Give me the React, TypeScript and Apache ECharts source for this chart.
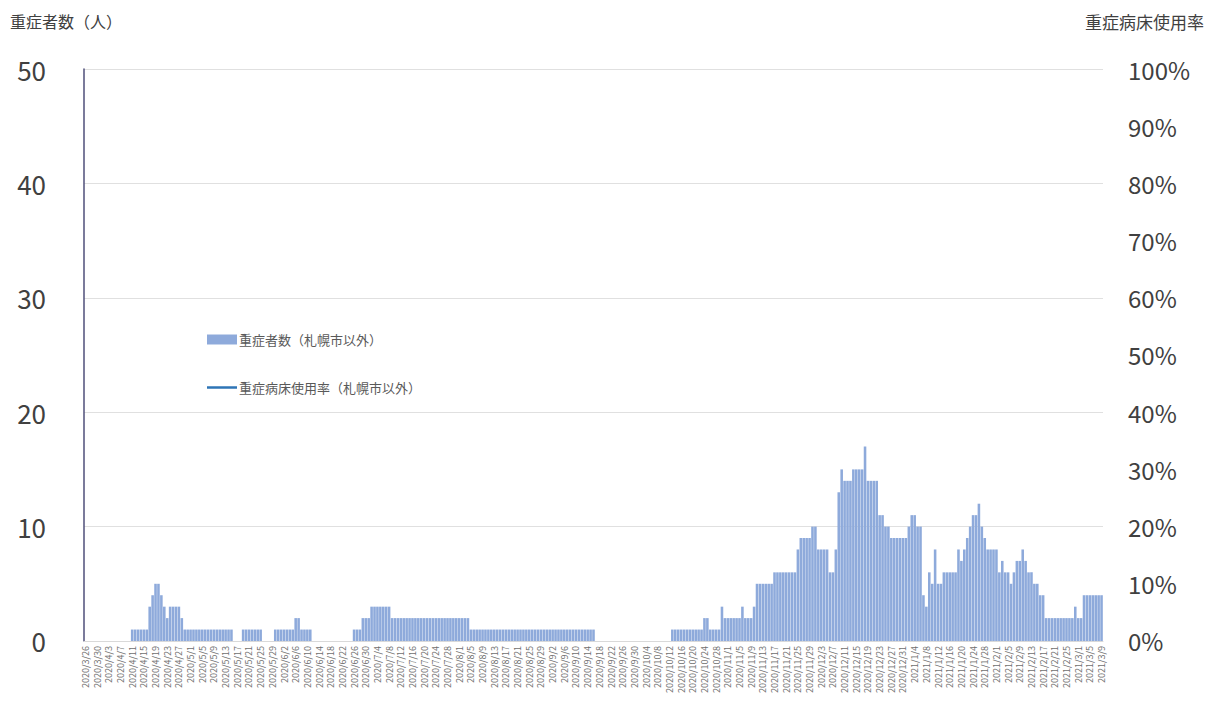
import React, { useEffect, useRef } from "react";
import * as echarts from "echarts";

const startDate = "2020/3/26";
const dayCount = 349;

const severeCounts: number[] = [
  0, 0, 0, 0, 0, 0, 0, 0, 0, 0,
  0, 0, 0, 0, 0, 0, 1, 1, 1, 1,
  1, 1, 3, 4, 5, 5, 4, 3, 2, 3,
  3, 3, 3, 2, 1, 1, 1, 1, 1, 1,
  1, 1, 1, 1, 1, 1, 1, 1, 1, 1,
  1, 0, 0, 0, 1, 1, 1, 1, 1, 1,
  1, 0, 0, 0, 0, 1, 1, 1, 1, 1,
  1, 1, 2, 2, 1, 1, 1, 1, 0, 0,
  0, 0, 0, 0, 0, 0, 0, 0, 0, 0,
  0, 0, 1, 1, 1, 2, 2, 2, 3, 3,
  3, 3, 3, 3, 3, 2, 2, 2, 2, 2,
  2, 2, 2, 2, 2, 2, 2, 2, 2, 2,
  2, 2, 2, 2, 2, 2, 2, 2, 2, 2,
  2, 2, 1, 1, 1, 1, 1, 1, 1, 1,
  1, 1, 1, 1, 1, 1, 1, 1, 1, 1,
  1, 1, 1, 1, 1, 1, 1, 1, 1, 1,
  1, 1, 1, 1, 1, 1, 1, 1, 1, 1,
  1, 1, 1, 1, 1, 0, 0, 0, 0, 0,
  0, 0, 0, 0, 0, 0, 0, 0, 0, 0,
  0, 0, 0, 0, 0, 0, 0, 0, 0, 0,
  0, 1, 1, 1, 1, 1, 1, 1, 1, 1,
  1, 1, 2, 2, 1, 1, 1, 1, 3, 2,
  2, 2, 2, 2, 2, 3, 2, 2, 2, 3,
  5, 5, 5, 5, 5, 5, 6, 6, 6, 6,
  6, 6, 6, 6, 8, 9, 9, 9, 9, 10,
  10, 8, 8, 8, 8, 6, 6, 8, 13, 15,
  14, 14, 14, 15, 15, 15, 15, 17, 14, 14,
  14, 14, 11, 11, 10, 10, 9, 9, 9, 9,
  9, 9, 10, 11, 11, 10, 10, 4, 3, 6,
  5, 8, 5, 5, 6, 6, 6, 6, 6, 8,
  7, 8, 9, 10, 11, 11, 12, 10, 9, 8,
  8, 8, 8, 6, 7, 6, 6, 5, 6, 7,
  7, 8, 7, 6, 6, 5, 5, 4, 4, 2,
  2, 2, 2, 2, 2, 2, 2, 2, 2, 3,
  2, 2, 4, 4, 4, 4, 4, 4, 4,
];

const bedRates: (number | null)[] = [];

const leftTicks = { min: 0, max: 50, interval: 10 };
const rightTicks = { min: 0, max: 1, interval: 0.1 };

const barName = "重症者数（札幌市以外）";
const lineName = "重症病床使用率（札幌市以外）";
const leftTitle = "重症者数（人）";
const rightTitle = "重症病床使用率";

function buildDates(): string[] {
  const parts = startDate.split("/").map(Number);
  const d = new Date(parts[0], parts[1] - 1, parts[2]);
  const out: string[] = [];
  for (let i = 0; i < dayCount; i++) {
    out.push(`${d.getFullYear()}/${d.getMonth() + 1}/${d.getDate()}`);
    d.setDate(d.getDate() + 1);
  }
  return out;
}

const FONT = '"Noto Sans CJK JP", "Noto Sans", sans-serif';

export default function App() {
  const ref = useRef<HTMLDivElement>(null);
  useEffect(() => {
    if (!ref.current) return;
    const chart = echarts.init(ref.current, undefined, { renderer: "svg" });
    const dates = buildDates();
    chart.setOption({
      animation: false,
      backgroundColor: "#ffffff",
      textStyle: { fontFamily: FONT },
      grid: { left: 76, right: 101, top: 61, bottom: 55, containLabel: false },
      legend: {
        orient: "vertical",
        left: 194,
        top: 320,
        itemGap: 35,
        itemWidth: 30,
        itemHeight: 10,
        textStyle: { fontSize: 13, color: "#595959", fontFamily: FONT, padding: [0, 0, 0, -3] },
        data: [
          { name: barName, icon: "rect" },
          {
            name: lineName,
            icon: "path://M0,4 L30,4 L30,6.5 L0,6.5 Z",
            itemStyle: { color: "#2e75b6" },
          },
        ],
      },
      graphic: [
        {
          type: "text",
          left: 2,
          top: 5,
          style: { text: leftTitle, fontSize: 16, fill: "#404040", fontFamily: FONT },
        },
        {
          type: "text",
          right: 0,
          top: 5,
          style: { text: rightTitle, fontSize: 17, fill: "#404040", fontFamily: FONT },
        },
      ],
      xAxis: {
        type: "category",
        data: dates,
        axisLine: { lineStyle: { color: "#d9d9d9" } },
        axisTick: { show: false },
        axisLabel: {
          interval: 3,
          rotate: 90,
          fontSize: 9,
          color: "#6f6f6f",
          margin: 5,
          fontFamily: FONT,
        },
      },
      yAxis: [
        {
          type: "value",
          min: leftTicks.min,
          max: leftTicks.max,
          interval: leftTicks.interval,
          axisLine: { show: true, lineStyle: { color: "#4f4f7a", width: 1.5 } },
          axisTick: { show: false },
          axisLabel: { fontSize: 26, color: "#404040", margin: 38, fontFamily: FONT },
          splitLine: { lineStyle: { color: "#e0e0e0" } },
        },
        {
          type: "value",
          min: rightTicks.min,
          max: rightTicks.max,
          interval: rightTicks.interval,
          axisLine: { show: false },
          axisTick: { show: false },
          splitLine: { show: false },
          axisLabel: {
            fontSize: 24,
            color: "#404040",
            margin: 25,
            fontFamily: FONT,
            formatter: (v: number) => `${Math.round(v * 100)}%`,
          },
        },
      ],
      series: [
        {
          name: barName,
          type: "bar",
          data: severeCounts,
          yAxisIndex: 0,
          barCategoryGap: "12%",
          itemStyle: { color: "#8eaadb" },
        },
        {
          name: lineName,
          type: "line",
          data: bedRates,
          yAxisIndex: 1,
          symbol: "none",
          lineStyle: { color: "#2e75b6", width: 2 },
          itemStyle: { color: "#2e75b6" },
        },
      ],
    });
    return () => chart.dispose();
  }, []);
  return <div ref={ref} style={{ width: 1196, height: 688 }} />;
}
